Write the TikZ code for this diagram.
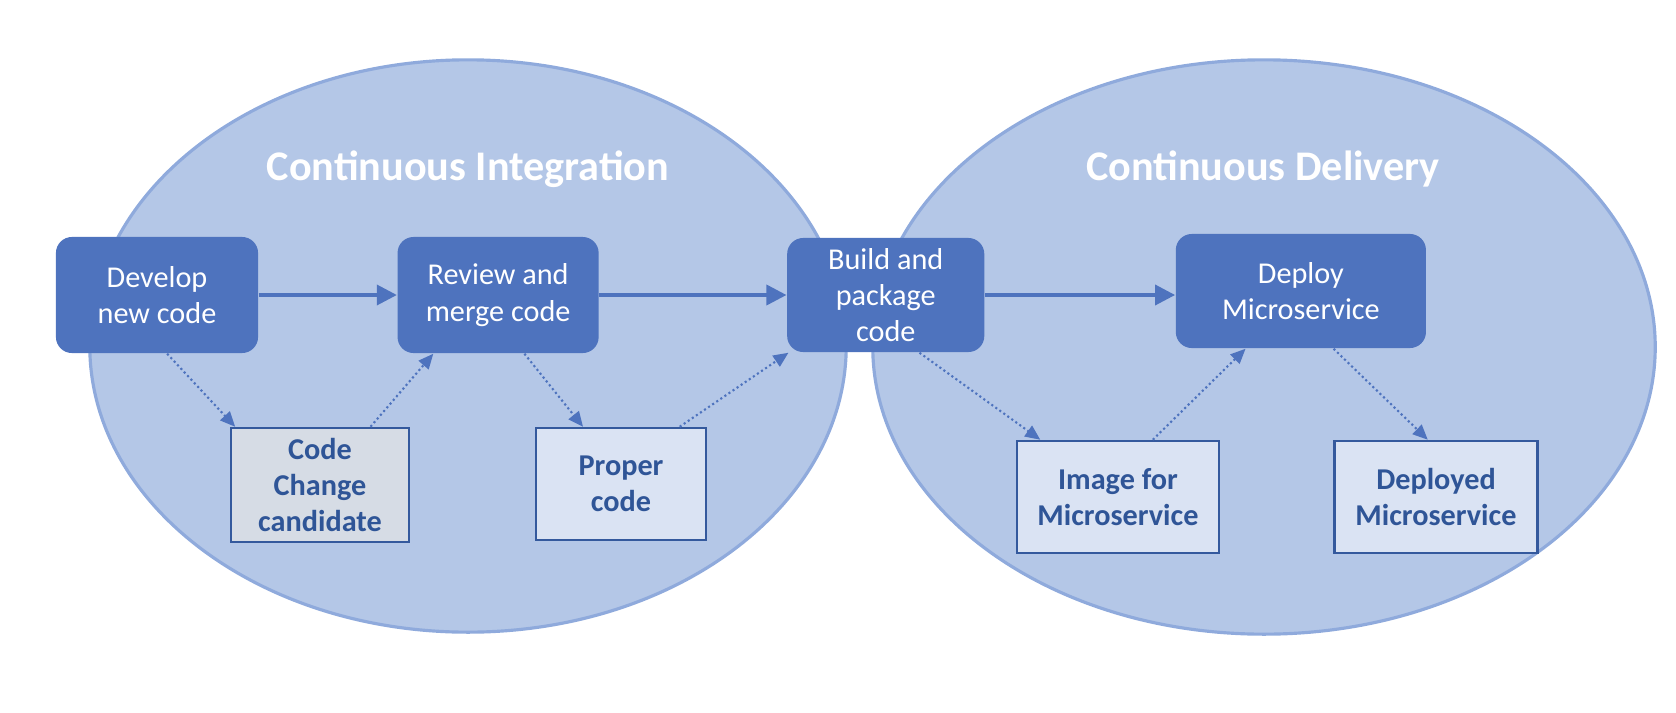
\documentclass[tikz,border=0pt]{standalone}
\usepackage{fontspec}
\setmainfont{Carlito}
\usetikzlibrary{positioning,calc,arrows.meta}

\definecolor{zonefill}{HTML}{B4C7E7}
\definecolor{zoneline}{HTML}{8FAADC}
\definecolor{stageblue}{HTML}{4E73BE}
\definecolor{artfill}{HTML}{DAE3F3}
\definecolor{candfill}{HTML}{D6DCE5}
\definecolor{artline}{HTML}{2F5597}

\begin{document}
\begin{tikzpicture}[
    x=0.01cm, y=-0.01cm,
    node distance = 1cm,
    zone/.style={
        fill=zonefill,
        draw=zoneline,
        line width=0.9pt
        },
    zonetitle/.style={
        text=white,
        font=\fontsize{12pt}{14.5pt}\selectfont\bfseries
        },
    stage/.style={
        rectangle,
        rounded corners=0.16cm,
        fill=stageblue,
        text=white,
        align=center,
        inner sep=0pt,
        font=\fontsize{8.6pt}{10.3pt}\selectfont
        },
    artifact/.style={
        rectangle,
        draw=artline!85!stageblue,
        line width=0.7pt,
        fill=artfill,
        text=artline,
        align=center,
        inner sep=0pt,
        font=\fontsize{8.6pt}{10.3pt}\selectfont\bfseries
        },
    flow/.style={
        draw=stageblue,
        line width=1pt,
        -{Triangle[length=0.2cm,width=0.2cm]}
        },
    hand/.style={
        draw=stageblue,
        line width=0.6pt,
        dash pattern=on 0.6pt off 0.8pt,
        -{Triangle[length=0.15cm,width=0.13cm]}
        },
]
\useasboundingbox (0,0) rectangle (1676,712);

% the two phases
\draw[zone] (468,346) ellipse [x radius=3.78cm, y radius=2.86cm];
\draw[zone] (1264,347) ellipse [x radius=3.91cm, y radius=2.87cm];
\node[zonetitle](ci) at (468,169){Continuous Integration};
\node[zonetitle](cd) at (1263,169){Continuous Delivery};

% main steps
\node[stage, minimum width=2.02cm, minimum height=1.16cm](dev) at (157,295){Develop\\new code};
\node[stage, minimum width=2.01cm, minimum height=1.16cm, right=1.38cm of dev](rev){Review and\\merge code};
\node[stage, minimum width=1.97cm, minimum height=1.14cm, right=1.87cm of rev](bld){Build and\\package\\code};
\node[stage, minimum width=2.50cm, minimum height=1.14cm, right=1.90cm of bld, yshift=0.04cm](dep){Deploy\\Microservice};

% outputs
\node[artifact, fill=candfill, minimum width=1.78cm, minimum height=1.14cm](cand) at (320,485){Code\\Change\\candidate};
\node[artifact, minimum width=1.70cm, minimum height=1.12cm](prop) at (621,484){Proper\\code};
\node[artifact, minimum width=2.02cm, minimum height=1.12cm](img) at (1118,497){Image for\\Microservice};
\node[artifact, minimum width=2.03cm, minimum height=1.12cm](dpl) at (1436,497){Deployed\\Microservice};

\draw[flow] (dev) -- (rev);
\draw[flow] (rev) -- (bld);
\draw[flow] (bld.east) -- (bld.east -| dep.west);

\draw[hand] ($(dev.south west)!.55!(dev.south east)$) -- ($(cand.north west)!.03!(cand.north east)$);
\draw[hand] ($(cand.north west)!.78!(cand.north east)$) -- ($(rev.south west)!.18!(rev.south east)$);
\draw[hand] ($(rev.south west)!.63!(rev.south east)$) -- ($(prop.north west)!.28!(prop.north east)$);
\draw[hand] ($(prop.north west)!.84!(prop.north east)$) -- ($(bld.south west)!.01!(bld.south east)$);
\draw[hand] ($(bld.south west)!.67!(bld.south east)$) -- ($(img.north west)!.12!(img.north east)$);
\draw[hand] ($(img.north west)!.67!(img.north east)$) -- ($(dep.south west)!.28!(dep.south east)$);
\draw[hand] ($(dep.south west)!.63!(dep.south east)$) -- ($(dpl.north west)!.46!(dpl.north east)$);

\end{tikzpicture}
\end{document}
